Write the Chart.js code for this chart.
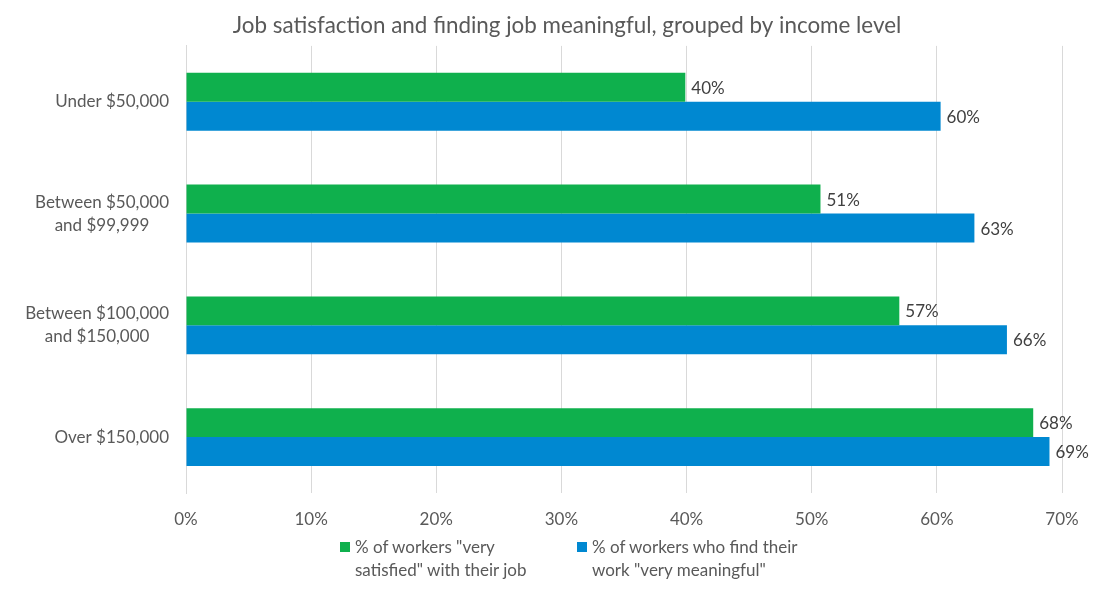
<!DOCTYPE html>
<html>
<head>
<meta charset="utf-8">
<script src="https://cdn.jsdelivr.net/npm/chart.js@4.4.1/dist/chart.umd.min.js"></script>
<style>
  html, body { margin: 0; padding: 0; background: #fff; }
  #wrap { position: relative; width: 1109px; height: 591px; }
  #legend { position: absolute; top: 535px; left: 0; width: 1109px; font-family: Lato, sans-serif; font-size: 17px; color: #595959; line-height: 23px; }
  .item { position: absolute; top: 0; }
  .box { position: absolute; left: 0; top: 7px; width: 10px; height: 10px; }
  .txt { position: absolute; left: 15px; top: 0; white-space: nowrap; }
</style>
</head>
<body>
<div id="wrap">
  <canvas id="jobChart" width="1109" height="591"></canvas>
  <div id="legend"></div>
</div>
<script>
const categories = [
  'Under $50,000',
  ['Between $50,000', 'and $99,999'],
  ['Between $100,000', 'and $150,000'],
  'Over $150,000'
];
const satisfied = [39.9, 50.7, 57.0, 67.7];
const meaningful = [60.3, 63.0, 65.6, 69.0];
const xTicks = [0, 10, 20, 30, 40, 50, 60, 70];

const seriesNames = [
  ['% of workers "very', 'satisfied" with their job'],
  ['% of workers who find their', 'work "very meaningful"']
];
const colors = ['#0FB04D', '#0088D1'];

const textColor = '#595959';
const fontFamily = 'Lato, sans-serif';

// value labels at bar ends
const barLabels = {
  id: 'barLabels',
  afterDatasetsDraw(chart) {
    const ctx = chart.ctx;
    ctx.save();
    ctx.font = '17px ' + fontFamily;
    ctx.fillStyle = '#404040';
    ctx.textAlign = 'left';
    ctx.textBaseline = 'middle';
    chart.data.datasets.forEach((ds, i) => {
      chart.getDatasetMeta(i).data.forEach((bar, j) => {
        ctx.fillText(Math.round(ds.data[j]) + '%', bar.x + 6, bar.y + 1);
      });
    });
    ctx.restore();
  }
};

// category labels: block right-aligned to the axis, lines centred inside the block
const catLabels = {
  id: 'catLabels',
  afterDraw(chart) {
    const ctx = chart.ctx;
    const yScale = chart.scales.y;
    const right = yScale.right - 17;
    const lineH = 23;
    ctx.save();
    ctx.font = '17px ' + fontFamily;
    ctx.fillStyle = textColor;
    ctx.textAlign = 'center';
    ctx.textBaseline = 'middle';
    chart.data.labels.forEach((lab, i) => {
      const lines = Array.isArray(lab) ? lab : [lab];
      const w = Math.max(...lines.map(l => ctx.measureText(l).width));
      const cx = right - w / 2;
      const y0 = yScale.getPixelForTick(i) - (lines.length - 1) * lineH / 2;
      lines.forEach((l, k) => ctx.fillText(l, cx, y0 + k * lineH));
    });
    ctx.restore();
  }
};

const data = {
  labels: categories,
  datasets: [
    { label: seriesNames[0].join(' '), data: satisfied, backgroundColor: colors[0] },
    { label: seriesNames[1].join(' '), data: meaningful, backgroundColor: colors[1] }
  ]
};

const config = {
  type: 'bar',
  data: data,
  plugins: [barLabels, catLabels],
  options: {
    indexAxis: 'y',
    responsive: false,
    animation: false,
    layout: { padding: { left: 72, right: 47, top: 0, bottom: 0 } },
    datasets: { bar: { categoryPercentage: 0.518, barPercentage: 1.0 } },
    scales: {
      x: {
        min: 0,
        max: 70,
        afterBuildTicks: (scale) => { scale.ticks = xTicks.map(v => ({ value: v })); },
        afterFit: (scale) => { scale.height = 98; },
        grid: { color: '#D9D9D9', drawTicks: false },
        border: { display: false },
        ticks: {
          padding: 16,
          color: textColor,
          font: { family: fontFamily, size: 17 },
          callback: (v) => v + '%'
        }
      },
      y: {
        afterFit: (scale) => { scale.width = 114; },
        grid: { display: false },
        border: { display: true, color: '#D9D9D9' },
        ticks: { display: false }
      }
    },
    plugins: {
      legend: { display: false },
      tooltip: { enabled: false },
      title: {
        display: true,
        text: 'Job satisfaction and finding job meaningful, grouped by income level',
        color: textColor,
        font: { family: fontFamily, size: 22.4, weight: 'normal' },
        padding: { top: 12, bottom: 7 }
      }
    }
  }
};

const myChart = new Chart(document.getElementById('jobChart'), config);

// two-line legend under the chart
const legendX = [340, 577];
const legendEl = document.getElementById('legend');
seriesNames.forEach((lines, i) => {
  const item = document.createElement('div');
  item.className = 'item';
  item.style.left = legendX[i] + 'px';
  item.innerHTML = '<span class="box" style="background:' + colors[i] + '"></span>' +
    '<span class="txt">' + lines.join('<br>') + '</span>';
  legendEl.appendChild(item);
});
</script>
</body>
</html>
